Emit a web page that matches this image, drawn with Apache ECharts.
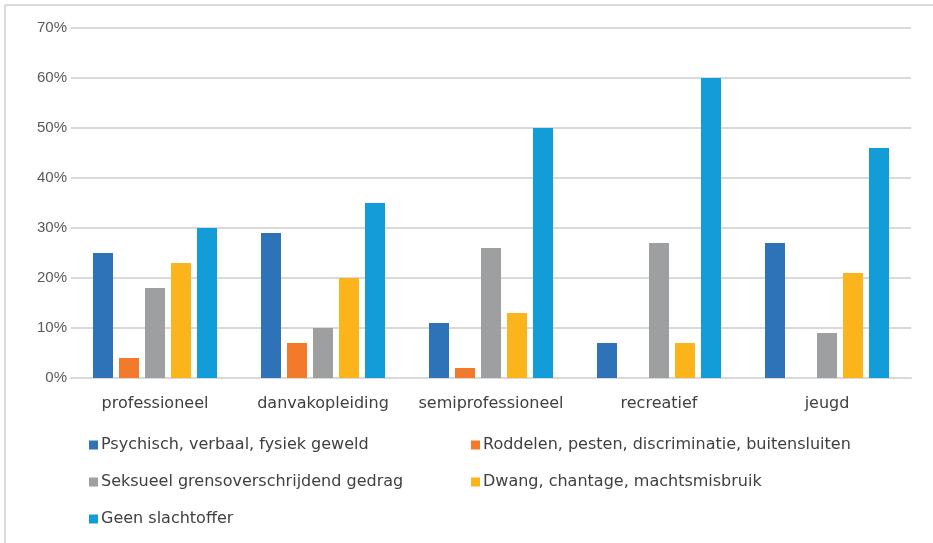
<!DOCTYPE html>
<html>
<head>
<meta charset="utf-8">
<script src="https://cdn.jsdelivr.net/npm/echarts@6/dist/echarts.min.js"></script>
<style>html,body{margin:0;padding:0;background:#fff}#c{width:933px;height:543px}</style>
</head>
<body>
<div id="c"></div>
<script>
const categories = ['professioneel', 'danvakopleiding', 'semiprofessioneel', 'recreatief', 'jeugd'];
const seriesNames = ['Psychisch, verbaal, fysiek geweld', 'Roddelen, pesten, discriminatie, buitensluiten', 'Seksueel grensoverschrijdend gedrag', 'Dwang, chantage, machtsmisbruik', 'Geen slachtoffer'];
const geweld = [25, 29, 11, 7, 27];
const roddelen = [4, 7, 2, 0, 0];
const seksueel = [18, 10, 26, 27, 9];
const dwang = [23, 20, 13, 7, 21];
const geen = [30, 35, 50, 60, 46];
const colors = ['#2E73B8', '#F27A2A', '#9D9FA1', '#FBB41C', '#139DD8'];
const values = [geweld, roddelen, seksueel, dwang, geen];

const font = 'Liberation Sans';
const wideFont = 'DejaVu Sans';
const chart = echarts.init(document.getElementById('c'));
const legendItem = (i) => ({ name: seriesNames[i] });
const legendBase = {
  icon: 'rect', itemWidth: 9, itemHeight: 9, itemGap: 21, orient: 'vertical', padding: 0,
  textStyle: { fontFamily: wideFont, fontSize: 16, color: '#404040', padding: [0, 0, 0, -2] },
  selectedMode: false
};
chart.setOption({
  animation: false,
  graphic: [
    { type: 'line', shape: { x1: 5, y1: 5, x2: 933, y2: 5 }, style: { stroke: '#d9d9d9', lineWidth: 2 } },
    { type: 'line', shape: { x1: 5, y1: 5, x2: 5, y2: 543 }, style: { stroke: '#d9d9d9', lineWidth: 2 } }
  ],
  grid: { left: 71, right: 22, top: 28, bottom: 165, containLabel: false },
  legend: [
    Object.assign({}, legendBase, { left: 89, top: 437, data: [legendItem(0), legendItem(2), legendItem(4)] }),
    Object.assign({}, legendBase, { left: 471, top: 437, data: [legendItem(1), legendItem(3)] })
  ],
  xAxis: {
    type: 'category', data: categories,
    axisLine: { show: true, lineStyle: { color: '#d9d9d9', width: 2 } },
    axisTick: { show: false },
    axisLabel: { interval: 0, fontFamily: wideFont, fontSize: 16, color: '#404040', margin: 18 }
  },
  yAxis: {
    type: 'value', min: 0, max: 70, interval: 10,
    axisLine: { show: false }, axisTick: { show: false },
    axisLabel: { formatter: '{value}%', fontFamily: font, fontSize: 15, color: '#595959', margin: 4 },
    splitLine: { lineStyle: { color: '#d9d9d9', width: 2 } }
  },
  series: values.map((v, i) => ({
    name: seriesNames[i], type: 'bar', data: v,
    itemStyle: { color: colors[i] },
    barWidth: 20, barGap: '30%'
  }))
});
</script>
</body>
</html>
